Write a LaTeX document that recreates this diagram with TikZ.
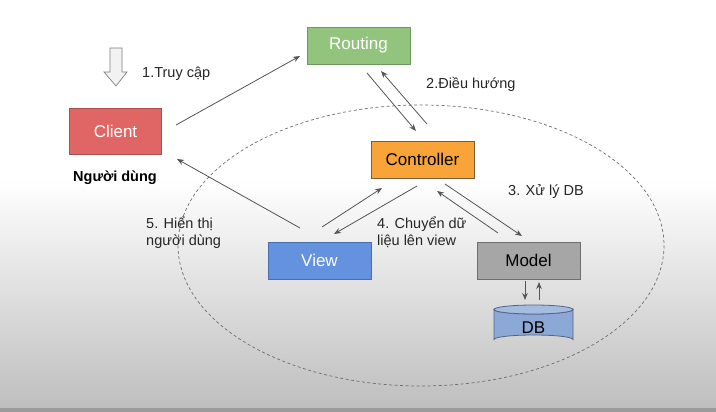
\documentclass[tikz,border=0pt]{standalone}
\usepackage{fontspec}
\setmainfont{Liberation Sans}
\usetikzlibrary{arrows.meta}
\definecolor{clientfill}{RGB}{224,102,102}
\definecolor{clientdraw}{RGB}{170,80,80}
\definecolor{routefill}{RGB}{147,196,125}
\definecolor{routedraw}{RGB}{110,150,95}
\definecolor{ctrlfill}{RGB}{248,164,56}
\definecolor{ctrldraw}{RGB}{120,95,60}
\definecolor{viewfill}{RGB}{100,146,222}
\definecolor{viewdraw}{RGB}{75,110,170}
\definecolor{modelfill}{RGB}{166,166,166}
\definecolor{modeldraw}{RGB}{110,110,110}
\definecolor{dbfill}{RGB}{140,168,215}
\definecolor{dbtop}{RGB}{165,188,225}
\definecolor{dbdraw}{RGB}{85,100,130}
\definecolor{arrgray}{RGB}{85,85,85}
\definecolor{bggray}{RGB}{190,190,190}
\definecolor{linegray}{RGB}{155,155,155}
\tikzset{
  box/.style={rectangle, draw, line width=0.8pt, inner sep=0pt, font=\fontsize{17}{20}\selectfont},
  lbl/.style={font=\fontsize{14.5}{17}\selectfont, text=black!85, inner sep=0pt, align=left},
  arr/.style={draw=arrgray, line width=0.8pt, -{Stealth[length=7pt,width=5.5pt]}},
}
\begin{document}
\begin{tikzpicture}[x=1pt,y={(0pt,-1pt)}]
\useasboundingbox (0,0) rectangle (716,412);
\fill[white] (0,0) rectangle (716,180);
\shade[top color=white, bottom color=bggray] (0,180) rectangle (716,408);
\fill[linegray] (0,408) rectangle (716,412);

% dashed ellipse
\draw[arrgray!85, line width=0.7pt, dash pattern=on 3pt off 2.5pt] (421,245.5) ellipse [x radius=243, y radius=140.5];

% down arrow
\draw[gray, fill=black!5, line width=0.7pt] (110,48) -- (122,48) -- (122,72) -- (127,72) -- (116,86) -- (104,72) -- (110,72) -- cycle;

% nodes
\node[box, fill=clientfill, draw=clientdraw, text=white, minimum width=92pt, minimum height=46pt] (client) at (115.5,131.5) {Client};
\node[box, fill=routefill, draw=routedraw, text=white, minimum width=103pt, minimum height=37pt] (routing) at (358.5,45.5) {Routing};
\node[box, fill=ctrlfill, draw=ctrldraw, text=black, minimum width=103pt, minimum height=37pt] (ctrl) at (422.5,159.5) {Controller};
\node[box, fill=viewfill, draw=viewdraw, text=white, minimum width=103pt, minimum height=37pt] (view) at (319.5,260.5) {View};
\node[box, fill=modelfill, draw=modeldraw, text=black, minimum width=103pt, minimum height=37pt] (model) at (528.5,260.5) {Model};

% DB cylinder
\draw[dbdraw, line width=0.8pt, fill=dbfill] (494,309.5) -- (494,339.5) arc[start angle=180, end angle=360, x radius=39.5, y radius=4.5] -- (573,309.5) arc[start angle=0, end angle=180, x radius=39.5, y radius=4.5] -- cycle;
\draw[dbdraw, line width=0.8pt, fill=dbtop] (533.5,309.5) ellipse [x radius=39.5, y radius=4.5];
\node[font=\fontsize{17}{20}\selectfont, inner sep=0pt] (db) at (533.5,328) {DB};

% labels
\node[lbl, anchor=west] (l1) at (142,74) {1.Truy cập};
\node[lbl, anchor=west] (l2) at (426,84) {2.Điều hướng};
\node[lbl, anchor=west] (l3) at (508,192) {3. Xử lý DB};
\node[lbl, anchor=west] (l4) at (377,232.5) {4. Chuyển dữ\\liệu lên view};
\node[lbl, anchor=west] (l5) at (146,232.5) {5. Hiển thị\\người dùng};
\node[font=\bfseries\fontsize{14.5}{17}\selectfont, inner sep=0pt] (user) at (115,178) {Người dùng};

% arrow end coordinates
\coordinate (c1) at (176,125);
\coordinate (r1) at (300,56);
\coordinate (v1) at (300,228);
\coordinate (c2) at (177,159);
\coordinate (r2) at (367,73);
\coordinate (k1) at (416,131);
\coordinate (k2) at (427,124);
\coordinate (r3) at (381,71);
\coordinate (v2) at (322,227);
\coordinate (k3) at (382,188);
\coordinate (k4) at (417,186);
\coordinate (v3) at (334,234);
\coordinate (k5) at (445,184);
\coordinate (m1) at (522,236);
\coordinate (m2) at (498,233);
\coordinate (k6) at (437,191);
\coordinate (m3) at (525,281);
\coordinate (d1) at (525,300);
\coordinate (d2) at (539,300);
\coordinate (m4) at (539,282);

\draw[arr] (c1) -- (r1);
\draw[arr] (v1) -- (c2);
\draw[arr] (r2) -- (k1);
\draw[arr] (k2) -- (r3);
\draw[arr] (v2) -- (k3);
\draw[arr] (k4) -- (v3);
\draw[arr] (k5) -- (m1);
\draw[arr] (m2) -- (k6);
\draw[arr] (m3) -- (d1);
\draw[arr] (d2) -- (m4);
\end{tikzpicture}
\end{document}
